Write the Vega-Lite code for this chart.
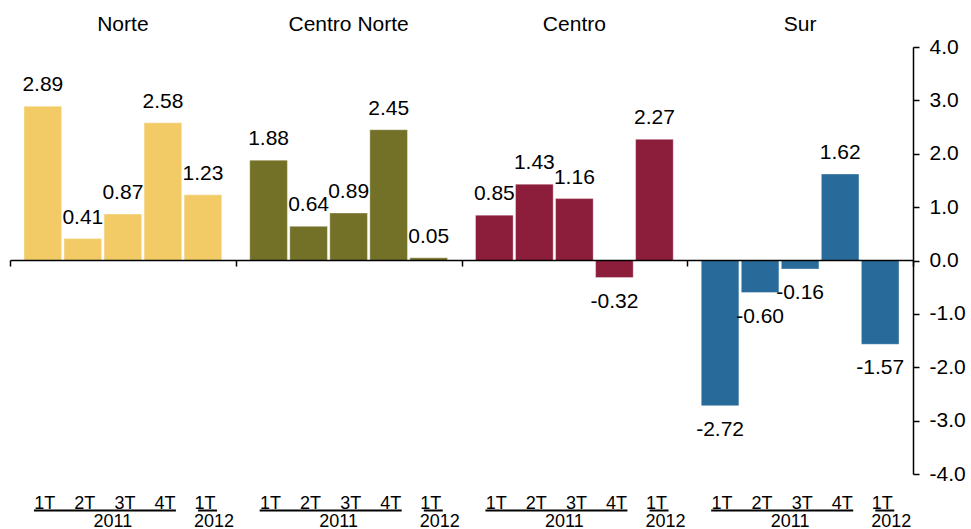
{
  "$schema": "https://vega.github.io/schema/vega-lite/v6.json",
  "width": 903,
  "height": 427,
  "autosize": {"type": "none"},
  "padding": {"left": 10, "top": 47, "right": 58, "bottom": 55},
  "background": "white",
  "config": {
    "view": {"stroke": null},
    "font": "Liberation Sans",
    "text": {"font": "Liberation Sans", "color": "black"},
    "axis": {"labelFont": "Liberation Sans", "labelColor": "black", "domainColor": "black", "tickColor": "black", "grid": false, "title": null},
    "locale": {
      "number": {"decimal": ".", "thousands": ",", "grouping": [3], "currency": ["$", ""], "minus": "-"}
    }
  },
  "data": {
    "values": [
      {"region": "Norte", "periodo": "2011-1T", "trimestre": "1T", "anio": "2011", "valor": 2.89},
      {"region": "Norte", "periodo": "2011-2T", "trimestre": "2T", "anio": "2011", "valor": 0.41},
      {"region": "Norte", "periodo": "2011-3T", "trimestre": "3T", "anio": "2011", "valor": 0.87},
      {"region": "Norte", "periodo": "2011-4T", "trimestre": "4T", "anio": "2011", "valor": 2.58},
      {"region": "Norte", "periodo": "2012-1T", "trimestre": "1T", "anio": "2012", "valor": 1.23},
      {"region": "Centro Norte", "periodo": "2011-1T", "trimestre": "1T", "anio": "2011", "valor": 1.88},
      {"region": "Centro Norte", "periodo": "2011-2T", "trimestre": "2T", "anio": "2011", "valor": 0.64},
      {"region": "Centro Norte", "periodo": "2011-3T", "trimestre": "3T", "anio": "2011", "valor": 0.89},
      {"region": "Centro Norte", "periodo": "2011-4T", "trimestre": "4T", "anio": "2011", "valor": 2.45},
      {"region": "Centro Norte", "periodo": "2012-1T", "trimestre": "1T", "anio": "2012", "valor": 0.05},
      {"region": "Centro", "periodo": "2011-1T", "trimestre": "1T", "anio": "2011", "valor": 0.85},
      {"region": "Centro", "periodo": "2011-2T", "trimestre": "2T", "anio": "2011", "valor": 1.43},
      {"region": "Centro", "periodo": "2011-3T", "trimestre": "3T", "anio": "2011", "valor": 1.16},
      {"region": "Centro", "periodo": "2011-4T", "trimestre": "4T", "anio": "2011", "valor": -0.32},
      {"region": "Centro", "periodo": "2012-1T", "trimestre": "1T", "anio": "2012", "valor": 2.27},
      {"region": "Sur", "periodo": "2011-1T", "trimestre": "1T", "anio": "2011", "valor": -2.72},
      {"region": "Sur", "periodo": "2011-2T", "trimestre": "2T", "anio": "2011", "valor": -0.60},
      {"region": "Sur", "periodo": "2011-3T", "trimestre": "3T", "anio": "2011", "valor": -0.16},
      {"region": "Sur", "periodo": "2011-4T", "trimestre": "4T", "anio": "2011", "valor": 1.62},
      {"region": "Sur", "periodo": "2012-1T", "trimestre": "1T", "anio": "2012", "valor": -1.57}
    ]
  },
  "layer": [
    {
      "mark": {"type": "bar", "stroke": "white", "strokeWidth": 0.6, "strokeOpacity": 0.6},
      "encoding": {
        "x": {
          "field": "region", "type": "nominal",
          "sort": ["Norte", "Centro Norte", "Centro", "Sur"],
          "scale": {"type": "band", "paddingInner": 0, "paddingOuter": 0},
          "axis": {"orient": "bottom", "offset": -214, "labels": false, "ticks": true, "tickSize": 6, "tickBand": "extent", "domainWidth": 1.5, "tickWidth": 1.5, "zindex": 1}
        },
        "xOffset": {
          "field": "periodo", "type": "nominal",
          "scale": {"domain": ["2011-1T", "2011-2T", "2011-3T", "2011-4T", "2012-1T"], "paddingInner": 0.06, "paddingOuter": 0.35}
        },
        "y": {
          "field": "valor", "type": "quantitative",
          "scale": {"domain": [-4, 4], "nice": false, "zero": false},
          "axis": {"orient": "right", "values": [-4, -3, -2, -1, 0, 1, 2, 3, 4], "format": ".1f", "labelFontSize": 21, "labelPadding": 10, "tickSize": 6, "domainWidth": 1.5, "tickWidth": 1.5}
        },
        "color": {
          "field": "region", "type": "nominal",
          "scale": {"domain": ["Norte", "Centro Norte", "Centro", "Sur"], "range": ["#F2CB67", "#737027", "#8C1D3B", "#286B9A"]},
          "legend": null
        }
      }
    },
    {
      "transform": [{"filter": "datum.valor >= 0"}],
      "mark": {"type": "text", "fontSize": 21, "baseline": "alphabetic", "dy": -15},
      "encoding": {
        "x": {
          "field": "region", "type": "nominal",
          "sort": ["Norte", "Centro Norte", "Centro", "Sur"],
          "axis": {"orient": "top", "domain": false, "ticks": false, "tickSize": 0, "labelFontSize": 21, "labelPadding": 17, "labelBaseline": "alphabetic", "labelAngle": 0}
        },
        "xOffset": {"field": "periodo", "type": "nominal"},
        "y": {"field": "valor", "type": "quantitative", "scale": {"domain": [-4, 4]}},
        "text": {"field": "valor", "type": "quantitative", "format": ".2f"}
      }
    },
    {
      "transform": [{"filter": "datum.valor < 0"}],
      "mark": {"type": "text", "fontSize": 21, "baseline": "alphabetic", "dy": 30},
      "encoding": {
        "x": {"field": "region", "type": "nominal", "sort": ["Norte", "Centro Norte", "Centro", "Sur"], "axis": null},
        "xOffset": {"field": "periodo", "type": "nominal"},
        "y": {"field": "valor", "type": "quantitative", "scale": {"domain": [-4, 4]}},
        "text": {"field": "valor", "type": "quantitative", "format": ".2f"}
      }
    },
    {
      "mark": {"type": "text", "fontSize": 18, "baseline": "alphabetic", "dx": 2},
      "encoding": {
        "x": {"field": "region", "type": "nominal", "sort": ["Norte", "Centro Norte", "Centro", "Sur"], "axis": null},
        "xOffset": {"field": "periodo", "type": "nominal"},
        "y": {"datum": -4.656, "type": "quantitative", "scale": {"domain": [-4, 4]}},
        "text": {"field": "trimestre", "type": "nominal"}
      }
    },
    {
      "transform": [{"filter": "datum.periodo == '2011-3T'"}],
      "mark": {"type": "text", "fontSize": 18, "baseline": "alphabetic", "dx": -10},
      "encoding": {
        "x": {"field": "region", "type": "nominal", "sort": ["Norte", "Centro Norte", "Centro", "Sur"], "axis": null},
        "xOffset": {"field": "periodo", "type": "nominal"},
        "y": {"datum": -4.99, "type": "quantitative", "scale": {"domain": [-4, 4]}},
        "text": {"field": "anio", "type": "nominal"}
      }
    },
    {
      "transform": [{"filter": "datum.periodo == '2012-1T'"}],
      "mark": {"type": "text", "fontSize": 18, "baseline": "alphabetic", "dx": 11},
      "encoding": {
        "x": {"field": "region", "type": "nominal", "sort": ["Norte", "Centro Norte", "Centro", "Sur"], "axis": null},
        "xOffset": {"field": "periodo", "type": "nominal"},
        "y": {"datum": -4.99, "type": "quantitative", "scale": {"domain": [-4, 4]}},
        "text": {"field": "anio", "type": "nominal"}
      }
    },
    {
      "transform": [{"filter": "datum.periodo == '2011-1T'"}],
      "mark": {"type": "rule", "strokeWidth": 2, "color": "black"},
      "encoding": {
        "x": {"field": "region", "type": "nominal", "sort": ["Norte", "Centro Norte", "Centro", "Sur"], "bandPosition": 0.106, "axis": null},
        "x2": {"field": "region", "bandPosition": 0.735},
        "y": {"datum": -4.684, "type": "quantitative", "scale": {"domain": [-4, 4]}}
      }
    },
    {
      "transform": [{"filter": "datum.periodo == '2012-1T'"}],
      "mark": {"type": "rule", "strokeWidth": 2, "color": "black"},
      "encoding": {
        "x": {"field": "region", "type": "nominal", "sort": ["Norte", "Centro Norte", "Centro", "Sur"], "bandPosition": 0.833, "axis": null},
        "x2": {"field": "region", "bandPosition": 0.917},
        "y": {"datum": -4.684, "type": "quantitative", "scale": {"domain": [-4, 4]}}
      }
    }
  ]
}
